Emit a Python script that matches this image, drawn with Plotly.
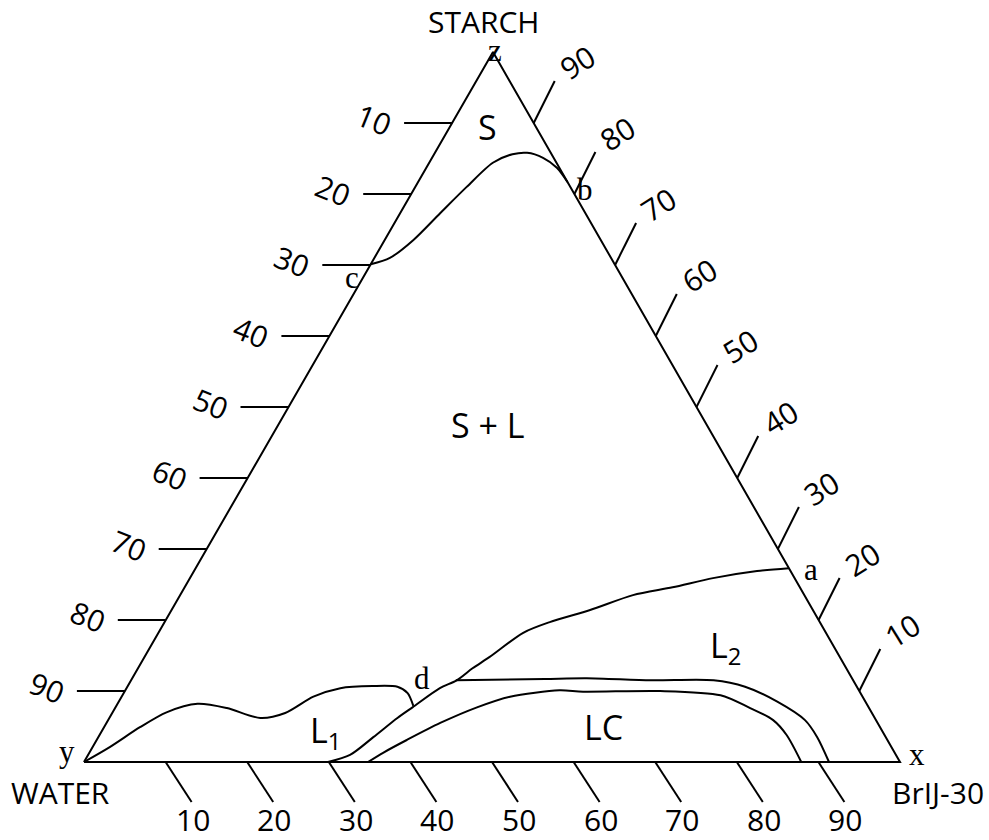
import plotly.graph_objects as go

# ---- data: compositions in percent (BrIJ-30, starch); water = 100 - BrIJ - starch ----
curve_cb_brij = [0.0, 1.9, 3.5, 4.9, 6.3, 7.8, 9.6, 11.3, 13.6, 16.0, 18.3]
curve_cb_starch = [70.1, 71.0, 73.5, 77.3, 81.0, 84.4, 85.6, 85.8, 85.1, 83.7, 81.7]

curve_yd_brij = [0.0, 2.1, 4.4, 6.6, 9.8, 13.7, 18.5, 21.2, 23.5, 26.2, 30.0, 33.1, 34.8, 36.4]
curve_yd_starch = [0.0, 2.1, 4.9, 7.0, 8.2, 7.6, 6.2, 6.9, 9.2, 10.4, 10.7, 10.6, 9.7, 7.9]

curve_da_brij = [29.9, 32.1, 33.7, 35.3, 36.4, 38.4, 39.9, 41.0, 42.3, 44.7, 47.2, 51.3, 55.5, 59.8, 64.1, 69.0, 72.7]
curve_da_starch = [0.0, 1.0, 3.5, 6.2, 7.7, 10.4, 11.5, 13.2, 14.8, 18.2, 19.7, 21.4, 23.5, 24.6, 25.9, 26.9, 27.3]

lc_outer_brij = [39.8, 50.6, 55.7, 63.7, 71.4, 75.7, 80.7, 85.4, 88.1, 91.3]
lc_outer_starch = [11.5, 11.7, 11.8, 11.5, 11.5, 10.6, 8.5, 5.9, 3.5, 0.0]

lc_inner_brij = [34.8, 36.0, 38.0, 40.9, 44.3, 47.6, 53.2, 56.2, 65.6, 73.3, 77.6, 81.5, 84.2, 87.9]
lc_inner_starch = [0.0, 1.3, 3.1, 5.5, 7.7, 9.2, 10.1, 9.9, 10.0, 9.4, 7.7, 5.9, 3.8, 0.0]

tick_values = [10, 20, 30, 40, 50, 60, 70, 80, 90]

point_labels = ["a", "b", "c", "d"]
region_labels = ["S", "S + L", "L<sub>1</sub>", "L<sub>2</sub>", "LC"]

# ---- layout geometry (page coordinates of the triangle vertices) ----
YV = (84, 762)   # water
XV = (900, 762)  # BrIJ-30
ZV = (493, 52)   # starch


def to_xy(brij, starch):
    b = brij / 100.0
    s = starch / 100.0
    w = 1.0 - b - s
    return (w * YV[0] + b * XV[0] + s * ZV[0],
            w * YV[1] + b * XV[1] + s * ZV[1])


def curve(brijs, starches):
    pts = [to_xy(b, s) for b, s in zip(brijs, starches)]
    return [p[0] for p in pts], [p[1] for p in pts]


fig = go.Figure()
LINE = dict(color="black", width=2)

# triangle
tri = [to_xy(0, 0), to_xy(100, 0), to_xy(0, 100), to_xy(0, 0)]
fig.add_trace(go.Scatter(x=[p[0] for p in tri], y=[p[1] for p in tri], mode="lines",
                         line=LINE, hoverinfo="skip"))

annotations = []
TF = dict(family="Open Sans, sans-serif", size=30, color="black")

# ticks
tx, ty = [], []
for v in tick_values:
    # bottom axis: BrIJ-30
    bx, by = to_xy(v, 0)
    ex, ey = bx + 26, by + 40
    tx += [bx, ex, None]; ty += [by, ey, None]
    annotations.append(dict(x=ex + 1, y=819, text=str(v), font=TF, borderpad=0))
    # left axis: water
    bx, by = to_xy(0, 100 - v)
    ex, ey = bx - 48, by
    tx += [bx, ex, None]; ty += [by, ey, None]
    annotations.append(dict(x=ex - 30, y=ey - 4, text=str(v), font=TF, textangle=22))
    # right axis: starch
    bx, by = to_xy(100 - v, v)
    ex, ey = bx + 21, by - 42
    tx += [bx, ex, None]; ty += [by, ey, None]
    annotations.append(dict(x=ex + 22, y=ey - 19, text=str(v), font=TF, textangle=-32))
fig.add_trace(go.Scatter(x=tx, y=ty, mode="lines", line=LINE, hoverinfo="skip"))

# phase boundaries
for bs, ss in [(curve_cb_brij, curve_cb_starch), (curve_yd_brij, curve_yd_starch),
               (curve_da_brij, curve_da_starch), (lc_outer_brij, lc_outer_starch),
               (lc_inner_brij, lc_inner_starch)]:
    cx, cy = curve(bs, ss)
    fig.add_trace(go.Scatter(x=cx, y=cy, mode="lines",
                             line=dict(color="black", width=2, shape="spline", smoothing=0.8),
                             hoverinfo="skip"))

# text
NF = dict(family="Open Sans, sans-serif", size=30, color="black")
RF = dict(family="Open Sans, sans-serif", size=34, color="black")
SF = dict(family="Liberation Serif, serif", size=31, color="black")

annotations += [
    dict(x=483, y=21, text="STARCH", font=NF),
    dict(x=60, y=792, text="WATER", font=NF),
    dict(x=938, y=792, text="BrIJ-30", font=NF),
    dict(x=495, y=50, text="z", font=SF, borderpad=0),
    dict(x=67, y=751, text="y", font=SF),
    dict(x=917, y=754, text="x", font=SF),
]
for lab, (px, py) in zip(point_labels, [(811, 569), (585, 189), (352, 277), (422, 678)]):
    annotations.append(dict(x=px, y=py, text=lab, font=SF))
for lab, (px, py) in zip(region_labels, [(487, 127), (488, 425), (325, 732), (725, 647), (603, 727)]):
    annotations.append(dict(x=px, y=py, text=lab, font=RF))
for a in annotations:
    a.setdefault("showarrow", False)
    a["xref"] = "x"; a["yref"] = "y"

fig.update_layout(
    width=989, height=840,
    margin=dict(l=0, r=0, t=0, b=0),
    paper_bgcolor="white", plot_bgcolor="white",
    showlegend=False,
    xaxis=dict(range=[0, 989], visible=False, fixedrange=True),
    yaxis=dict(range=[840, 0], visible=False, fixedrange=True),
    annotations=annotations,
)

fig.write_html("out.html")
